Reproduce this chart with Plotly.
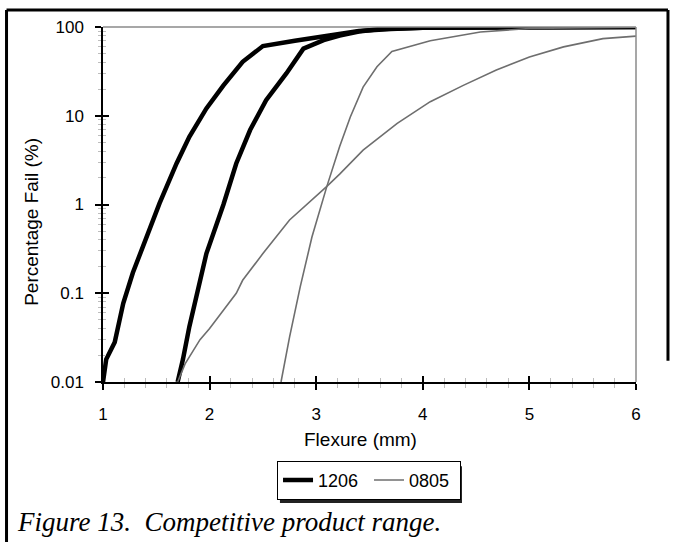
import plotly.graph_objects as go

# ---- data ----
x_1206_a = [1.00, 1.03, 1.11, 1.19, 1.28, 1.41, 1.53, 1.69, 1.81, 1.97, 2.13, 2.31, 2.50, 2.80, 3.10, 3.40, 3.70, 4.00, 5.00, 6.00]
y_1206_a = [0.01, 0.018, 0.028, 0.077, 0.17, 0.43, 1.03, 2.9, 5.8, 12.1, 22, 40.5, 61, 70, 79, 90, 95, 98, 99.5, 99.8]

x_1206_b = [1.70, 1.75, 1.81, 1.88, 1.97, 2.13, 2.25, 2.38, 2.53, 2.72, 2.88, 3.07, 3.22, 3.40, 3.60, 4.00, 5.00, 6.00]
y_1206_b = [0.01, 0.018, 0.042, 0.10, 0.28, 1.0, 2.9, 6.9, 15, 30, 57, 71, 80, 89, 95, 98, 99.5, 99.8]

x_0805_a = [2.67, 2.71, 2.75, 2.85, 2.96, 3.10, 3.22, 3.32, 3.44, 3.57, 3.71, 4.07, 4.54, 5.00, 5.50, 6.00]
y_0805_a = [0.01, 0.018, 0.032, 0.118, 0.43, 1.6, 4.5, 9.7, 21, 35.6, 53, 70, 88, 96, 98.5, 99.3]

x_0805_b = [1.70, 1.77, 1.91, 2.00, 2.25, 2.31, 2.50, 2.75, 3.10, 3.22, 3.44, 3.76, 4.07, 4.38, 4.69, 5.00, 5.32, 5.69, 6.00]
y_0805_b = [0.01, 0.016, 0.030, 0.040, 0.10, 0.14, 0.28, 0.67, 1.6, 2.2, 4.1, 8.2, 14.4, 22, 32.7, 46, 59.7, 74, 79]

y_tick_vals = [0.01, 0.1, 1, 10, 100]
y_tick_text = ["0.01", "0.1", "1", "10", "100"]
y_minor_vals = [k * 10 ** e for e in range(-2, 2) for k in range(2, 10)]
x_tick_vals = [1, 2, 3, 4, 5, 6]

BLACK = "#000000"
GRAY = "#6e6e6e"
FONT = "Liberation Sans, Arial, sans-serif"

fig = go.Figure()
fig.add_trace(go.Scatter(x=x_1206_a, y=y_1206_a, mode="lines", name="1206",
                         line=dict(color=BLACK, width=4.5)))
fig.add_trace(go.Scatter(x=x_1206_b, y=y_1206_b, mode="lines", name="1206", showlegend=False,
                         line=dict(color=BLACK, width=4.5)))
fig.add_trace(go.Scatter(x=x_0805_a, y=y_0805_a, mode="lines", name="0805",
                         line=dict(color=GRAY, width=1.6)))
fig.add_trace(go.Scatter(x=x_0805_b, y=y_0805_b, mode="lines", name="0805", showlegend=False,
                         line=dict(color=GRAY, width=1.6)))
# invisible trace to activate the overlay axes (inside half of crossing ticks)
fig.add_trace(go.Scatter(x=[None], y=[None], xaxis="x2", yaxis="y2", showlegend=False,
                         hoverinfo="skip"))

fig.update_layout(
    width=673, height=542,
    margin=dict(l=103, r=37, t=27, b=160),
    paper_bgcolor="white", plot_bgcolor="white",
    font=dict(family=FONT, color=BLACK),
    xaxis=dict(range=[1, 6], tickvals=x_tick_vals, showgrid=False, zeroline=False,
               showline=True, linecolor=BLACK, linewidth=1.5,
               ticks="outside", ticklen=6, tickwidth=1.5, tickcolor=BLACK,
               minor=dict(dtick=0.2, ticks="outside", ticklen=4, tickwidth=1, tickcolor="#bdbdbd"),
               tickfont=dict(size=17, family=FONT, color=BLACK), ticklabelstandoff=10),
    yaxis=dict(type="log", range=[-2, 2], tickvals=y_tick_vals, ticktext=y_tick_text,
               showgrid=False, zeroline=False,
               showline=True, linecolor=BLACK, linewidth=1.5,
               ticks="outside", ticklen=6, tickwidth=1.5, tickcolor=BLACK,
               minor=dict(tickvals=y_minor_vals, ticks="outside", ticklen=3, tickwidth=1, tickcolor="#bdbdbd"),
               tickfont=dict(size=17, family=FONT, color=BLACK), ticklabelstandoff=8),
    xaxis2=dict(range=[1, 6], overlaying="x", anchor="y", side="bottom", tickvals=x_tick_vals,
                showticklabels=False, showgrid=False, zeroline=False, showline=False,
                ticks="inside", ticklen=6, tickwidth=1.5, tickcolor=BLACK,
                minor=dict(dtick=0.2, ticks="inside", ticklen=4, tickwidth=1, tickcolor="#bdbdbd")),
    yaxis2=dict(type="log", range=[-2, 2], overlaying="y", anchor="x", side="left",
                tickvals=y_tick_vals, showticklabels=False, showgrid=False, zeroline=False,
                showline=False, ticks="inside", ticklen=6, tickwidth=1.5, tickcolor=BLACK,
                minor=dict(tickvals=y_minor_vals, ticks="inside", ticklen=3, tickwidth=1, tickcolor="#bdbdbd")),
    legend=dict(x=0.3265, y=-0.222, xanchor="left", yanchor="top", orientation="h",
                bgcolor="white", bordercolor=BLACK, borderwidth=1,
                font=dict(size=18, family=FONT, color=BLACK), itemwidth=30,
                entrywidth=46, entrywidthmode="pixels", tracegroupgap=0),
    showlegend=True,
)

shapes = [
    # gray top and right edges of the plot area
    dict(type="line", xref="paper", yref="paper", x0=0, x1=1, y0=1, y1=1,
         line=dict(color="#8a8a8a", width=1.5)),
    dict(type="line", xref="paper", yref="paper", x0=1, x1=1, y0=0, y1=1,
         line=dict(color="#8a8a8a", width=1.5)),
    # outer frame
    dict(type="line", xref="paper", yref="paper", x0=-0.181, x1=-0.181, y0=1.048, y1=-0.46,
         line=dict(color=BLACK, width=3)),
    dict(type="line", xref="paper", yref="paper", x0=-0.181, x1=1.060, y0=1.048, y1=1.048,
         line=dict(color=BLACK, width=3)),
    dict(type="line", xref="paper", yref="paper", x0=1.060, x1=1.060, y0=1.048, y1=0.06,
         line=dict(color=BLACK, width=3)),
    # legend drop shadow
    dict(type="rect", xref="paper", yref="paper", x0=0.332, x1=0.6735, y0=-0.341, y1=-0.237,
         fillcolor="#222222", line=dict(width=0), layer="above"),
]
fig.update_layout(shapes=shapes)

fig.add_annotation(text="Flexure (mm)", xref="paper", yref="paper", x=0.484, y=-0.163,
                   xanchor="center", yanchor="middle", showarrow=False,
                   font=dict(size=19, family=FONT, color=BLACK))
fig.add_annotation(text="Percentage Fail (%)", xref="paper", yref="paper", x=-0.134, y=0.45,
                   xanchor="center", yanchor="middle", showarrow=False, textangle=-90,
                   font=dict(size=19, family=FONT, color=BLACK))
fig.add_annotation(text="Figure 13.&nbsp; Competitive product range.", xref="paper", yref="paper",
                   x=-0.166, y=-0.394, xanchor="left", yanchor="middle", showarrow=False,
                   font=dict(size=27, family="Liberation Serif, Times New Roman, serif",
                             color=BLACK, style="italic"))

fig.write_html("out.html")
